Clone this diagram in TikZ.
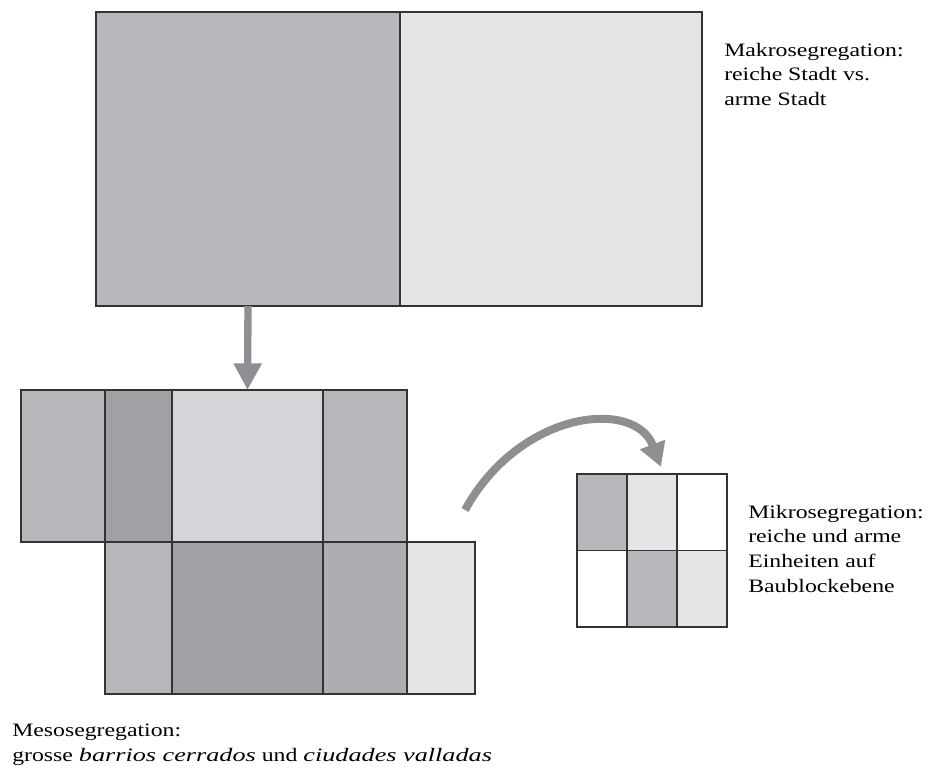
\documentclass[tikz,border=0pt]{standalone}
\usepackage{fontspec}
\setmainfont[FakeStretch=1.25, ItalicFeatures={FakeStretch=1.38}]{Liberation Serif}
\usepackage{tikz}
\usetikzlibrary{arrows.meta, positioning}

\definecolor{gMid}{HTML}{B7B8BB}
\definecolor{gMidB}{HTML}{ADAEB1}
\definecolor{gDark}{HTML}{A0A1A5}
\definecolor{gPale}{HTML}{D4D5D8}
\definecolor{gLight}{HTML}{E4E5E7}
\definecolor{gArrow}{HTML}{8E8F93}

\begin{document}
\begin{tikzpicture}[x=0.75pt, y=-0.75pt,
	cell/.style={draw=black!80, line width=0.8pt, rectangle, inner sep=0pt, outer sep=0pt},
	note/.style={align=left, anchor=north west, inner sep=0pt, font=\fontsize{14.25}{18.4}\selectfont},
	flow/.style={draw=gArrow, line width=5.5pt, -{Triangle[width=20pt, length=20pt]}}]
	
	\useasboundingbox (0,0) rectangle (937,771);
	
	% Makro level
	\node[cell, fill=gMid, minimum width=228pt, minimum height=220.5pt, anchor=north west] (makro1) at (96,12) {};
	\node[cell, fill=gLight, minimum width=226.5pt, minimum height=220.5pt, right=0pt of makro1] (makro2) {};
	
	% Meso level, upper row
	\node[cell, fill=gMid, minimum width=63pt, minimum height=114pt, anchor=north west] (mesoA1) at (21,390) {};
	\node[cell, fill=gDark, minimum width=50.25pt, minimum height=114pt, right=0pt of mesoA1] (mesoA2) {};
	\node[cell, fill=gPale, minimum width=113.25pt, minimum height=114pt, right=0pt of mesoA2] (mesoA3) {};
	\node[cell, fill=gMid, minimum width=63pt, minimum height=114pt, right=0pt of mesoA3] (mesoA4) {};
	
	% Meso level, lower row
	\node[cell, fill=gMid, minimum width=50.25pt, minimum height=114pt, below=0pt of mesoA2] (mesoB1) {};
	\node[cell, fill=gDark, minimum width=113.25pt, minimum height=114pt, right=0pt of mesoB1] (mesoB2) {};
	\node[cell, fill=gMidB, minimum width=63pt, minimum height=114pt, right=0pt of mesoB2] (mesoB3) {};
	\node[cell, fill=gLight, minimum width=51pt, minimum height=114pt, right=0pt of mesoB3] (mesoB4) {};
	
	% Mikro level
	\node[cell, fill=gMid, minimum width=37.5pt, minimum height=57.375pt, anchor=north west] (mikroA1) at (577,474) {};
	\node[cell, fill=gLight, minimum width=37.5pt, minimum height=57.375pt, right=0pt of mikroA1] (mikroA2) {};
	\node[cell, fill=white, minimum width=37.5pt, minimum height=57.375pt, right=0pt of mikroA2] (mikroA3) {};
	\node[cell, fill=white, minimum width=37.5pt, minimum height=57.375pt, below=0pt of mikroA1] (mikroB1) {};
	\node[cell, fill=gMid, minimum width=37.5pt, minimum height=57.375pt, right=0pt of mikroB1] (mikroB2) {};
	\node[cell, fill=gLight, minimum width=37.5pt, minimum height=57.375pt, right=0pt of mikroB2] (mikroB3) {};
	
	% Arrows
	\draw[flow] (makro1.south) -- (mesoA3.north);
	\coordinate (bendstart) at (465,510);
	\draw[flow, line width=6pt, -{Triangle[width=19pt, length=18pt]}] (bendstart) .. controls (520,410) and (635,398) .. ([shift={(9,-7)}]mikroA2.north);
	
	% Captions
	\node[note] (makrotext) at (724,43) {Makrosegregation:\\reiche Stadt vs.\\arme Stadt};
	\node[note] (mikrotext) at (748,505) {Mikrosegregation:\\reiche und arme\\Einheiten auf\\Baublockebene};
	\node[note] (mesotext) at (12,724) {Mesosegregation:\\grosse \textit{barrios cerrados} und \textit{ciudades valladas}};
\end{tikzpicture}
\end{document}
